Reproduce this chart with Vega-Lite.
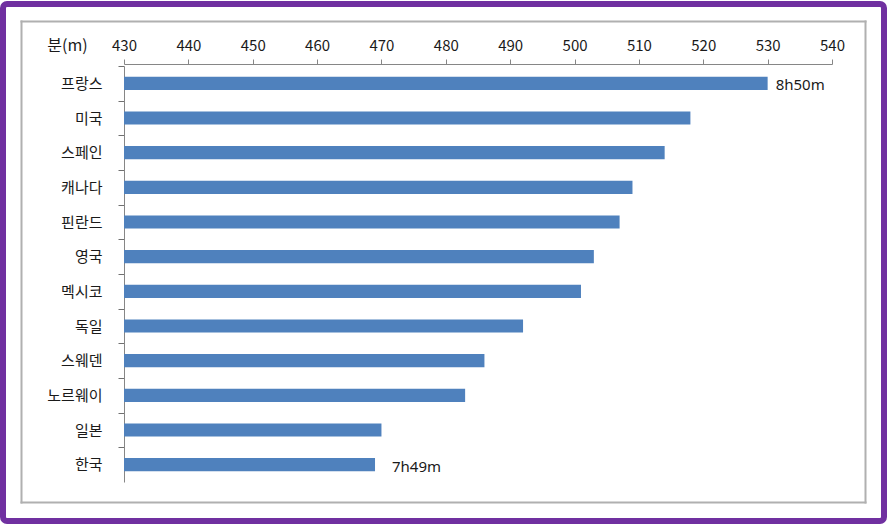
{
  "$schema": "https://vega.github.io/schema/vega-lite/v6.json",
  "width": 881,
  "height": 517,
  "autosize": "none",
  "padding": {"left": 3, "top": 4, "right": 5, "bottom": 4},
  "background": "white",
  "view": {"stroke": "#7030A0", "strokeWidth": 6, "cornerRadius": 4, "fill": "white"},
  "config": {"font": "Noto Sans CJK KR"},
  "data": {
    "values": [
      {"country": "프랑스", "minutes": 530, "label": "8h50m"},
      {"country": "미국", "minutes": 518, "label": null},
      {"country": "스페인", "minutes": 514, "label": null},
      {"country": "캐나다", "minutes": 509, "label": null},
      {"country": "핀란드", "minutes": 507, "label": null},
      {"country": "영국", "minutes": 503, "label": null},
      {"country": "멕시코", "minutes": 501, "label": null},
      {"country": "독일", "minutes": 492, "label": null},
      {"country": "스웨덴", "minutes": 486, "label": null},
      {"country": "노르웨이", "minutes": 483, "label": null},
      {"country": "일본", "minutes": 470, "label": null},
      {"country": "한국", "minutes": 469, "label": "7h49m"}
    ]
  },
  "layer": [
    {
      "layer": [
        {
          "mark": {"type": "bar", "color": "#4F81BD"},
          "encoding": {
            "x": {
              "field": "minutes",
              "type": "quantitative",
              "scale": {"domain": [430, 540], "range": [121, 829], "zero": false, "nice": false},
              "axis": {
                "orient": "top",
                "offset": -60,
                "values": [430, 440, 450, 460, 470, 480, 490, 500, 510, 520, 530, 540],
                "title": "분(m)",
                "titleX": 64,
                "titleY": -14,
                "titleAlign": "center",
                "titleBaseline": "alphabetic",
                "titleAngle": 0,
                "titleFontSize": 16,
                "titleFontWeight": "normal",
                "titleColor": "#1a1a1a",
                "labelFontSize": 15,
                "labelBaseline": "alphabetic",
                "labelPadding": 9,
                "labelColor": "#1a1a1a",
                "labelFlush": false,
                "labelOverlap": false,
                "tickSize": 5,
                "domainColor": "#868686",
                "tickColor": "#868686",
                "grid": false
              }
            },
            "x2": {"datum": 430},
            "y": {
              "field": "country",
              "type": "nominal",
              "sort": null,
              "scale": {"range": [62, 478], "paddingInner": 0.62, "paddingOuter": 0.31},
              "axis": {
                "orient": "left",
                "offset": -121,
                "title": null,
                "bandPosition": 0,
                "tickOffset": -10.7,
                "labelOffset": 10.7,
                "tickSize": 6,
                "tickWidth": 1,
                "labelPadding": 16,
                "labelFontSize": 15,
                "labelColor": "#1a1a1a",
                "labelBaseline": "middle",
                "domainColor": "#868686",
                "tickColor": "#707070",
                "grid": false
              }
            }
          }
        },
        {
          "transform": [{"filter": "datum.country === '프랑스'"}],
          "mark": {"type": "text", "align": "left", "baseline": "middle", "dx": 8, "dy": 2, "fontSize": 15, "font": "Noto Sans", "color": "#1a1a1a"},
          "encoding": {
            "x": {"field": "minutes", "type": "quantitative"},
            "y": {"field": "country", "type": "nominal", "sort": null},
            "text": {"field": "label"}
          }
        },
        {
          "transform": [{"filter": "datum.country === '한국'"}],
          "mark": {"type": "text", "align": "left", "baseline": "middle", "dx": 17, "dy": 2, "fontSize": 15, "font": "Noto Sans", "color": "#1a1a1a"},
          "encoding": {
            "x": {"field": "minutes", "type": "quantitative"},
            "y": {"field": "country", "type": "nominal", "sort": null},
            "text": {"field": "label"}
          }
        }
      ]
    },
    {
      "mark": {"type": "point", "opacity": 0, "clip": true},
      "encoding": {
        "x": {
          "field": "minutes",
          "type": "quantitative",
          "scale": {"domain": [0, 1], "range": [18, 862], "zero": false, "nice": false},
          "axis": {"orient": "top", "offset": -17, "ticks": false, "labels": false, "title": null, "grid": false, "domainColor": "#b0b0b0", "domainWidth": 2, "domainCap": "square"}
        },
        "y": {
          "field": "minutes",
          "type": "quantitative",
          "scale": {"domain": [0, 1], "range": [17, 498], "zero": false, "nice": false},
          "axis": {"orient": "left", "offset": -18, "ticks": false, "labels": false, "title": null, "grid": false, "domainColor": "#b0b0b0", "domainWidth": 2, "domainCap": "square"}
        }
      }
    },
    {
      "mark": {"type": "point", "opacity": 0, "clip": true},
      "encoding": {
        "x": {
          "field": "minutes",
          "type": "quantitative",
          "scale": {"domain": [0, 1], "range": [18, 862], "zero": false, "nice": false},
          "axis": {"orient": "bottom", "offset": -19, "ticks": false, "labels": false, "title": null, "grid": false, "domainColor": "#b0b0b0", "domainWidth": 2, "domainCap": "square"}
        },
        "y": {
          "field": "minutes",
          "type": "quantitative",
          "scale": {"domain": [0, 1], "range": [17, 498], "zero": false, "nice": false},
          "axis": {"orient": "right", "offset": -19, "ticks": false, "labels": false, "title": null, "grid": false, "domainColor": "#b0b0b0", "domainWidth": 2, "domainCap": "square"}
        }
      }
    }
  ],
  "resolve": {"scale": {"x": "independent", "y": "independent"}}
}
